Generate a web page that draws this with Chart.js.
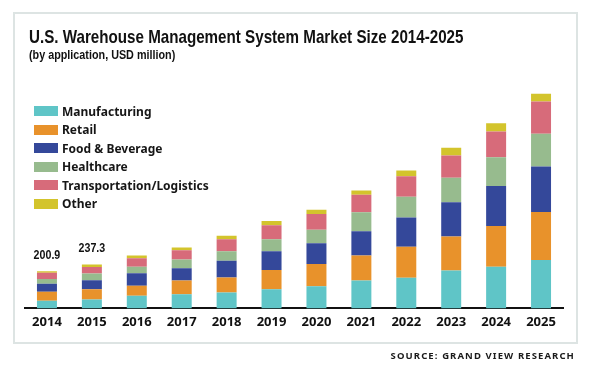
<!DOCTYPE html>
<html>
<head>
<meta charset="utf-8">
<script src="https://cdn.jsdelivr.net/npm/chart.js@4/dist/chart.umd.min.js"></script>
<style>
  body { margin: 0; background: #fff; }
  #wrap { position: relative; width: 600px; height: 375px; background: #fff; overflow: hidden; }
  #frame { position: absolute; left: 13px; top: 12px; width: 561px; height: 328px; border: 2px solid #dde4e3; }
  #myChart { position: absolute; left: 0; top: 0; }
  /* narrow look: squeeze a regular bold face horizontally */
  #title { position: absolute; left: 29px; top: 28px; font: bold 18.5px "Liberation Sans", sans-serif; color: #111; line-height: 1; white-space: nowrap; transform: scaleX(0.82); transform-origin: 0 0; }
  #subtitle { position: absolute; left: 29px; top: 48px; font: bold 13px "Liberation Sans", sans-serif; color: #111; line-height: 1; white-space: nowrap; transform: scaleX(0.83); transform-origin: 0 0; }
  #legend { position: absolute; left: 34px; top: 102px; }
  .row { height: 18.5px; display: flex; align-items: center; font: bold 12px "Noto Sans", sans-serif; color: #161616; white-space: nowrap; }
  .box { width: 24px; height: 10px; margin-right: 4px; }
  #source { position: absolute; right: 25px; top: 349px; font: bold 9.5px "Noto Sans", sans-serif; letter-spacing: 1.1px; color: #1a1a1a; white-space: nowrap; }
</style>
</head>
<body>
<div id="wrap">
  <div id="frame"></div>
  <canvas id="myChart" width="600" height="375"></canvas>
  <div id="title">U.S. Warehouse Management System Market Size 2014-2025</div>
  <div id="subtitle">(by application, USD million)</div>
  <div id="legend"></div>
  <div id="source">SOURCE: GRAND VIEW RESEARCH</div>
</div>
<script>
// values (USD million)
var years = ['2014','2015','2016','2017','2018','2019','2020','2021','2022','2023','2024','2025'];
var manufacturing  = [41.2, 48.2, 68, 77, 86, 103, 119, 150, 166, 204, 225, 261];
var retail         = [49.1, 55.8, 54, 74, 81, 104, 121, 135, 167, 184, 220, 259];
var foodBeverage   = [43.3, 48.4, 67, 66, 90, 101, 111, 131, 158, 185, 216, 245];
var healthcare     = [25.4, 35.9, 36, 47, 51, 65, 74, 103, 112, 132, 154, 177];
var transportation = [32.7, 35.6, 45, 50, 65, 76, 85, 94, 110, 120, 139, 174];
var other          = [9.2, 13.4, 16, 14, 19, 22, 22, 23, 31, 42, 45, 42];
var totalLabels    = ['200.9', '237.3'];

var names  = ['Manufacturing', 'Retail', 'Food & Beverage', 'Healthcare', 'Transportation/Logistics', 'Other'];
var series = [manufacturing, retail, foodBeverage, healthcare, transportation, other];
var colors = ['#5fc5c7', '#e8922b', '#34489a', '#97bb8e', '#d76b7a', '#d3c42c'];

var datasets = [];
for (var i = 0; i < series.length; i++) {
  datasets.push({
    label: names[i],
    data: series[i],
    backgroundColor: colors[i],
    borderWidth: 0,
    categoryPercentage: 1,
    barPercentage: 0.445
  });
}

// html legend
var legend = document.getElementById('legend');
for (var j = 0; j < names.length; j++) {
  var row = document.createElement('div');
  row.className = 'row';
  var box = document.createElement('span');
  box.className = 'box';
  box.style.background = colors[j];
  row.appendChild(box);
  row.appendChild(document.createTextNode(names[j]));
  legend.appendChild(row);
}

var totalsPlugin = {
  id: 'totals',
  afterDatasetsDraw: function(chart) {
    var meta = chart.getDatasetMeta(chart.data.datasets.length - 1);
    var ctx = chart.ctx;
    for (var k = 0; k < totalLabels.length; k++) {
      var bar = meta.data[k];
      ctx.save();
      ctx.translate(bar.x, bar.y - 12);
      ctx.scale(0.82, 1);
      ctx.font = 'bold 13px "Liberation Sans", sans-serif';
      ctx.fillStyle = '#111';
      ctx.textAlign = 'center';
      ctx.textBaseline = 'alphabetic';
      ctx.fillText(totalLabels[k], 0, 0);
      ctx.restore();
    }
  }
};

var ctx = document.getElementById('myChart').getContext('2d');
var myChart = new Chart(ctx, {
  type: 'bar',
  data: { labels: years, datasets: datasets },
  options: {
    responsive: false,
    animation: false,
    layout: { padding: { left: 24.5, right: 36.5, top: 86, bottom: 39 } },
    plugins: { legend: { display: false }, tooltip: { enabled: false } },
    scales: {
      x: {
        stacked: true,
        grid: { display: false, drawTicks: false },
        border: { display: true, color: '#111', width: 2 },
        ticks: { color: '#111', padding: 6, font: { family: 'Noto Sans', size: 13, weight: 'bold' } }
      },
      y: {
        stacked: true,
        display: false,
        min: 0,
        max: 1200
      }
    }
  },
  plugins: [totalsPlugin]
});
</script>
</body>
</html>
